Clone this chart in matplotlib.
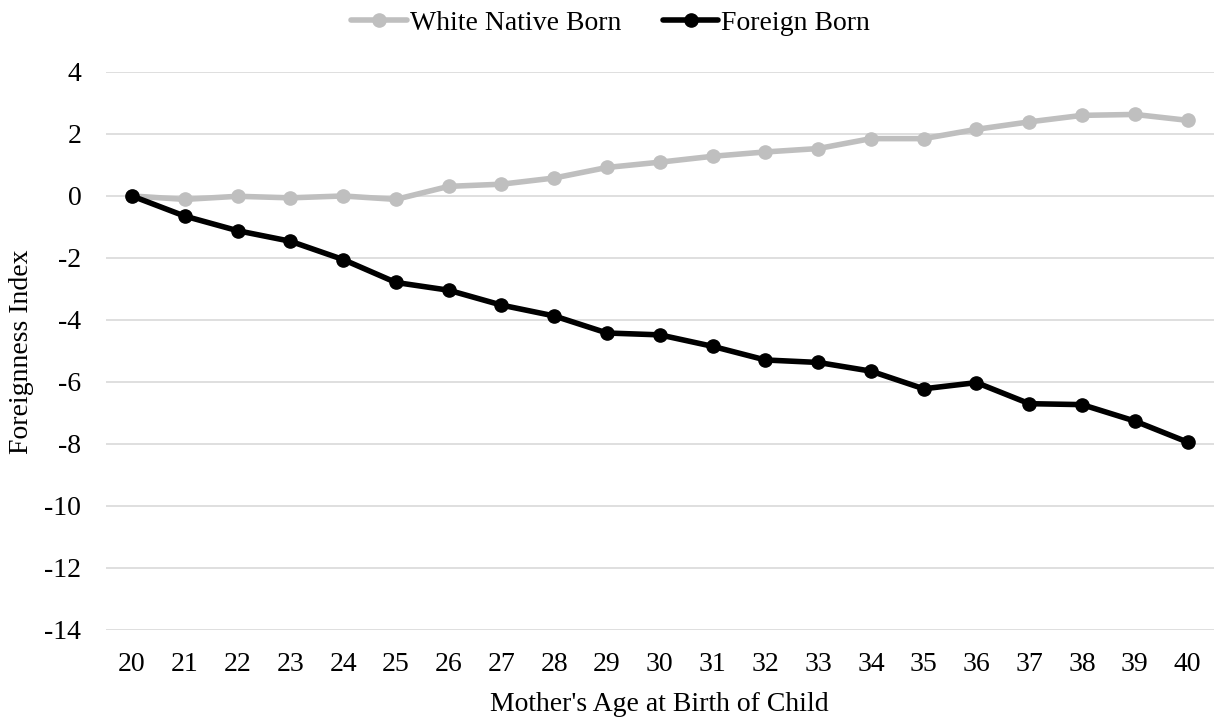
import matplotlib
matplotlib.use("Agg")
import matplotlib.pyplot as plt

ages = list(range(20, 41))
age_labels = [str(a) for a in ages]
white_native = [0.0, -0.11, -0.01, -0.06, 0.0, -0.11, 0.31, 0.38, 0.58, 0.92, 1.09,
                1.28, 1.42, 1.53, 1.85, 1.85, 2.15, 2.39, 2.60, 2.63, 2.44]
foreign_born = [0.0, -0.65, -1.12, -1.46, -2.05, -2.79, -3.04, -3.52, -3.87, -4.42, -4.48,
                -4.85, -5.29, -5.37, -5.65, -6.22, -6.02, -6.70, -6.73, -7.26, -7.94]
y_ticks = [4, 2, 0, -2, -4, -6, -8, -10, -12, -14]

plt.rcParams['font.family'] = ['Liberation Serif', 'DejaVu Serif']
FS = 20

fig = plt.figure(figsize=(12.14, 7.19), dpi=100)
ax = fig.add_axes([0.087, 0.1238, 0.913, 0.7761])

x = list(range(len(ages)))
ax.plot(x, white_native, color='#BFBFBF', lw=4.0, marker='o', ms=9.5,
        label='White Native Born', zorder=3, solid_capstyle='round')
ax.plot(x, foreign_born, color='#000000', lw=4.0, marker='o', ms=9.5,
        label='Foreign Born', zorder=4, solid_capstyle='round')

ax.set_xlim(-0.5, len(ages) - 0.5)
ax.set_ylim(-14, 4)
ax.set_yticks(y_ticks)
ax.set_yticklabels([str(v) if v >= 0 else '-' + str(-v) for v in y_ticks])
ax.set_xticks(x)
ax.set_xticklabels(age_labels)
ax.tick_params(axis='both', length=0, labelsize=FS)
ax.tick_params(axis='y', pad=17.5)
ax.tick_params(axis='x', pad=16)
ax.grid(axis='y', color='#D9D9D9', lw=1.2)
ax.set_axisbelow(True)
for s in ax.spines.values():
    s.set_visible(False)

ax.set_xlabel("Mother's Age at Birth of Child", fontsize=FS, labelpad=11)
fig.text(22 / 1214, 1 - 352 / 719, "Foreignness Index", fontsize=FS, rotation=90,
         ha='center', va='center')

fig.legend(loc='upper center', bbox_to_anchor=(0.503, 1.02), ncol=2, frameon=False,
           fontsize=FS, handlelength=2.0, handletextpad=0.1, columnspacing=1.5)

fig.savefig('out.png', dpi=100)
